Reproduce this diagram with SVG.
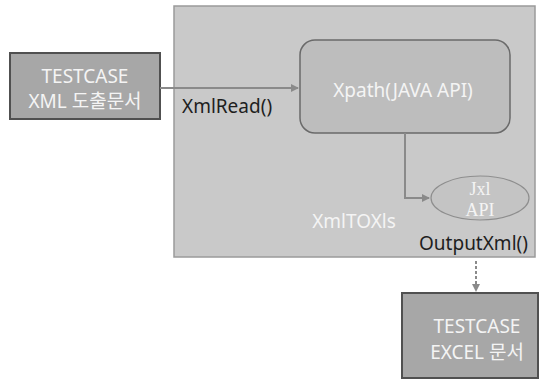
<svg xmlns="http://www.w3.org/2000/svg" width="548" height="381" viewBox="0 0 548 381">
  <style>
    .box { fill: #a7a7a7; stroke: #505050; stroke-width: 2; }
    .wt { fill: #f4f4f4; font-family: "Noto Sans", "Noto Sans CJK KR", sans-serif; font-size: 19px; text-anchor: middle; }
    .dk { fill: #1e1e1e; font-family: "Noto Sans", "Noto Sans CJK KR", sans-serif; font-size: 19px; }
    .conn { stroke: #8a8a8a; stroke-width: 2; fill: none; }
    .serif { font-family: "Liberation Serif", serif; font-size: 18px; }
  </style>
  <defs>
    <marker id="ah" markerWidth="8" markerHeight="8" refX="7" refY="4" orient="auto" markerUnits="userSpaceOnUse">
      <path d="M0,0 L8,4 L0,8 Z" fill="#8a8a8a"/>
    </marker>
  </defs>
  <rect width="548" height="381" fill="#ffffff"/>
  <g id="container">
    <rect x="174" y="6" width="361" height="251" fill="#c9c9c9" stroke="#9a9a9a" stroke-width="1.5"/>
  </g>
  <g id="xml-doc">
    <rect class="box" x="10" y="53" width="150" height="66"/>
    <text class="wt" x="85" y="83" font-size="18">TESTCASE</text>
    <text class="wt" x="85" y="108" font-size="18">XML 도출문서</text>
  </g>
  <g id="xpath">
    <rect x="300" y="40" width="210" height="93" rx="15" ry="15" fill="#bdbdbd" stroke="#6a6a6a" stroke-width="1.5"/>
    <text class="wt" x="403" y="97" font-size="20">Xpath(JAVA API)</text>
  </g>
  <g id="jxl">
    <ellipse cx="480" cy="198" rx="49" ry="22" fill="#c4c4c4" stroke="#8e8e8e" stroke-width="1.2"/>
    <text class="wt serif" x="480" y="195">Jxl</text>
    <text class="wt serif" x="480" y="216">API</text>
  </g>
  <g id="excel-doc">
    <rect class="box" x="402" y="293" width="136" height="85"/>
    <text class="wt" x="477" y="333" font-size="18">TESTCASE</text>
    <text class="wt" x="477" y="359" font-size="18">EXCEL 문서</text>
  </g>
  <g id="connectors">
    <line class="conn" x1="160" y1="88" x2="298" y2="88" marker-end="url(#ah)"/>
    <polyline class="conn" points="405,133 405,198 429,198" marker-end="url(#ah)"/>
    <line class="conn" x1="476" y1="261" x2="476" y2="291" stroke-dasharray="3,2" marker-end="url(#ah)"/>
  </g>
  <g id="labels">
    <text class="dk" x="182" y="113">XmlRead()</text>
    <text class="wt" x="354" y="228">XmlTOXls</text>
    <text class="dk" x="419" y="250" font-size="19.5">OutputXml()</text>
  </g>
</svg>
